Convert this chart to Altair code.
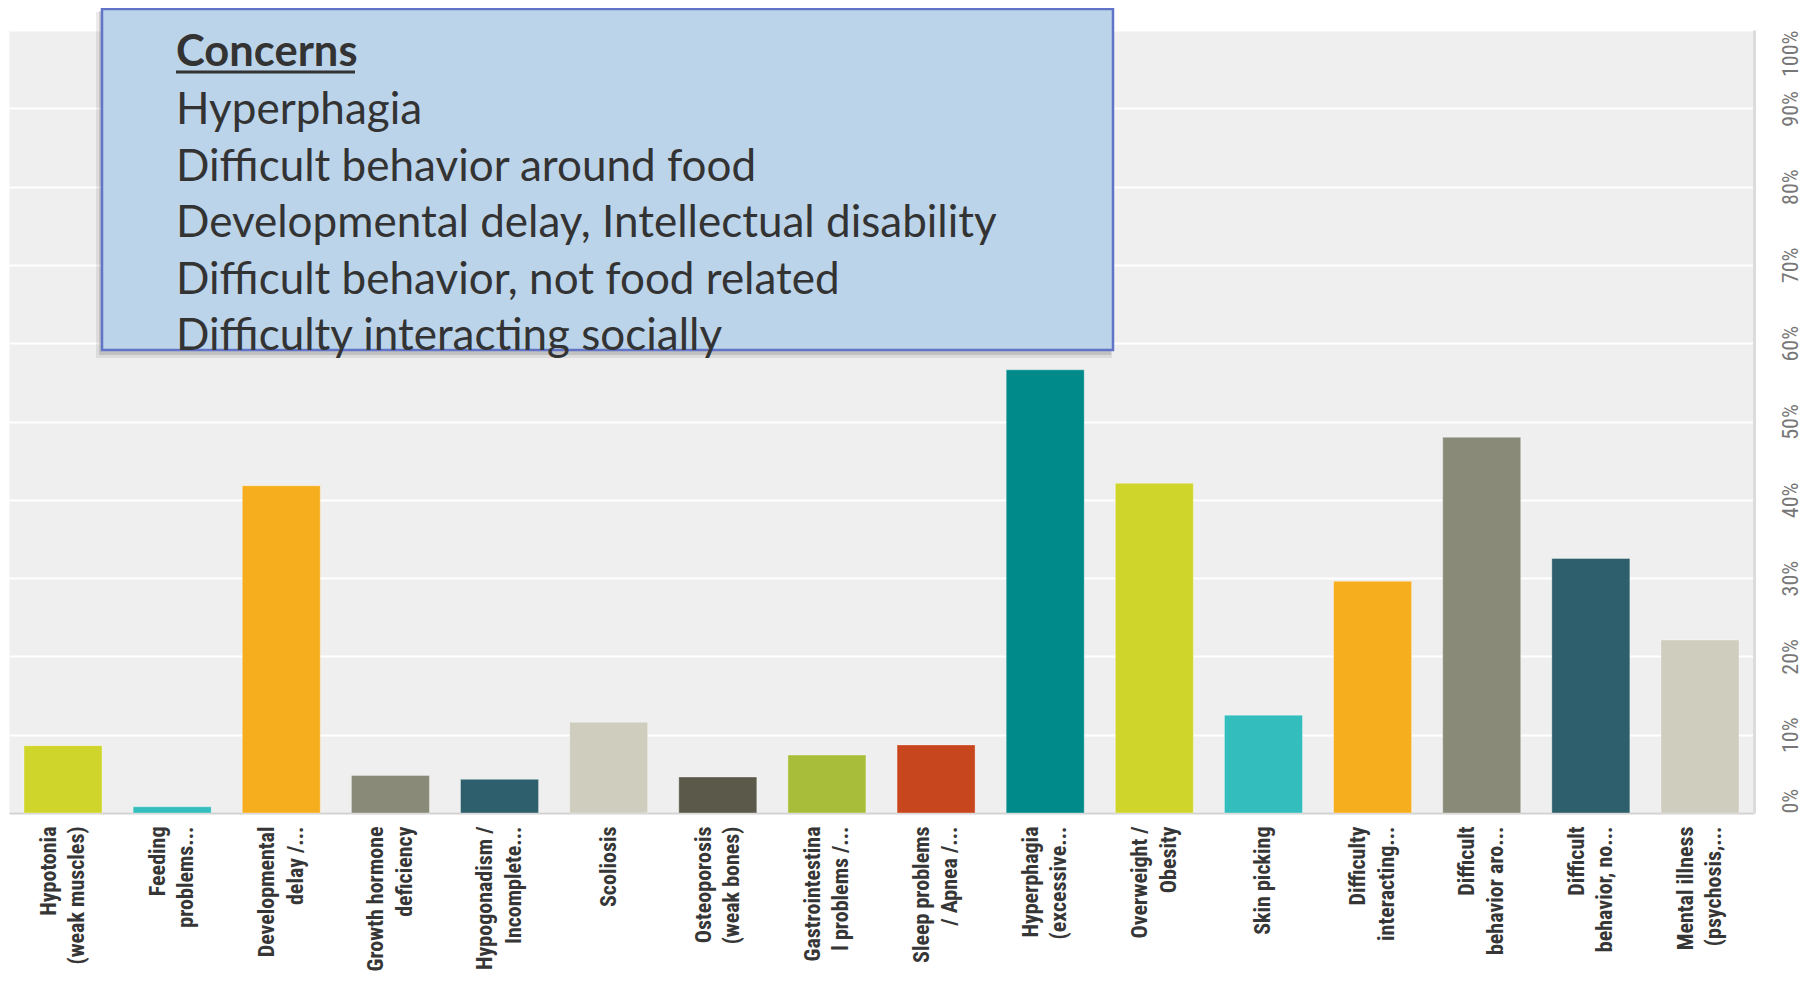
import altair as alt
import pandas as pd

categories = [
    "Hypotonia|(weak muscles)",
    "Feeding|problems...",
    "Developmental|delay /...",
    "Growth hormone|deficiency",
    "Hypogonadism /|Incomplete...",
    "Scoliosis",
    "Osteoporosis|(weak bones)",
    "Gastrointestina|l problems /...",
    "Sleep problems|/ Apnea /...",
    "Hyperphagia|(excessive...",
    "Overweight /|Obesity",
    "Skin picking",
    "Difficulty|interacting...",
    "Difficult|behavior aro...",
    "Difficult|behavior, no...",
    "Mental illness|(psychosis,...",
]
values_pct = [8.6, 0.8, 41.8, 4.8, 4.3, 11.6, 4.6, 7.4, 8.7, 56.6, 42.1, 12.5, 29.6, 48.0, 32.5, 22.1]
bar_colors = [
    "#d0d52b", "#33bdbd", "#f6ae1f", "#8a8a78", "#2e5f6c", "#cfcdbe", "#5b5a4a", "#a8bd3a",
    "#c8461e", "#008a8a", "#d0d52b", "#33bdbd", "#f6ae1f", "#8a8a78", "#2e5f6c", "#cfcdbe",
]
y_ticks = [0, 0.1, 0.2, 0.3, 0.4, 0.5, 0.6, 0.7, 0.8, 0.9, 1.0]

box_title = "Concerns"
box_lines = [
    "Hyperphagia",
    "Difficult behavior around food",
    "Developmental delay, Intellectual disability",
    "Difficult behavior, not food related",
    "Difficulty interacting socially",
]

df = pd.DataFrame({"cat": categories, "pct": [v / 100 for v in values_pct]})
anno = pd.DataFrame({"k": [0]})

LABEL_FONT = "Roboto Condensed, Roboto, sans-serif"
LINE_H = 28.5

bars = alt.Chart(df).mark_bar(stroke="#ffffff", strokeOpacity=0.35, strokeWidth=1).encode(
    x=alt.X(
        "cat:N",
        sort=categories,
        title=None,
        scale=alt.Scale(paddingInner=0.285, paddingOuter=0.1375),
        axis=alt.Axis(
            labelAngle=270,
            labelAlign="right",
            labelBaseline="middle",
            labelExpr="split(datum.label, '|')",
            labelOffset={
                "condition": {"test": "indexof(datum.value, '|') >= 0", "value": -LINE_H / 2},
                "value": 0,
            },
            labelFont=LABEL_FONT,
            labelFontWeight="bold",
            labelFontSize=22,
            labelLineHeight=LINE_H,
            labelColor="#363636",
            labelPadding=13,
            labelLimit=400,
            ticks=False,
            tickSize=0,
            domainColor="#d2d2d2",
            domainWidth=2,
            grid=False,
        ),
    ),
    y=alt.Y(
        "pct:Q",
        title=None,
        scale=alt.Scale(domain=[0, 1], nice=False),
        axis=alt.Axis(
            orient="right",
            values=y_ticks,
            format=".0%",
            labelAngle=270,
            labelAlign={
                "condition": [
                    {"test": "datum.value >= 0.999", "value": "right"},
                    {"test": "datum.value <= 0.001", "value": "left"},
                ],
                "value": "center",
            },
            labelBaseline="top",
            labelPadding=26,
            labelFont=LABEL_FONT,
            labelFontSize=22,
            labelColor="#777777",
            ticks=False,
            tickSize=0,
            domainColor="#dcdcdc",
            domainWidth=3,
            gridColor="#ffffff",
            gridWidth=2,
        ),
    ),
    color=alt.Color("cat:N", scale=alt.Scale(domain=categories, range=bar_colors), legend=None),
)

shadow_outer = alt.Chart(anno).mark_rect(fill="#000000", opacity=0.08).encode(
    x=alt.value(87), x2=alt.value(1103), y=alt.value(-18), y2=alt.value(328)
)
shadow_inner = alt.Chart(anno).mark_rect(fill="#000000", opacity=0.12).encode(
    x=alt.value(90), x2=alt.value(1102), y=alt.value(-19), y2=alt.value(325)
)
box = alt.Chart(anno).mark_rect(fill="#bcd4ea", stroke="#6274c8", strokeWidth=2.5).encode(
    x=alt.value(93), x2=alt.value(1104), y=alt.value(-21), y2=alt.value(320)
)
title_txt = alt.Chart(anno).mark_text(
    align="left", baseline="alphabetic", font="Lato", fontWeight="bold", fontSize=43.5, color="#333333"
).encode(x=alt.value(167), y=alt.value(36), text=alt.value(box_title))
underline = alt.Chart(anno).mark_rule(color="#333333", strokeWidth=3).encode(
    x=alt.value(167), x2=alt.value(346), y=alt.value(42)
)
lines_txt = alt.Chart(anno).mark_text(
    align="left", baseline="alphabetic", font="Lato", fontSize=44, lineHeight=56.5, color="#333333"
).encode(x=alt.value(167), y=alt.value(94), text=alt.value(box_lines))

chart = (
    alt.layer(bars, shadow_outer, shadow_inner, box, title_txt, underline, lines_txt)
    .properties(
        width=1745,
        height=783,
        padding={"left": 1, "top": 22, "right": 50, "bottom": 161},
        autosize=alt.AutoSizeParams(type="none"),
        background="#ffffff",
    )
    .configure_view(fill="#efefef", stroke="transparent")
)

chart.save("out.html", embed_options={"renderer": "svg", "actions": False})
